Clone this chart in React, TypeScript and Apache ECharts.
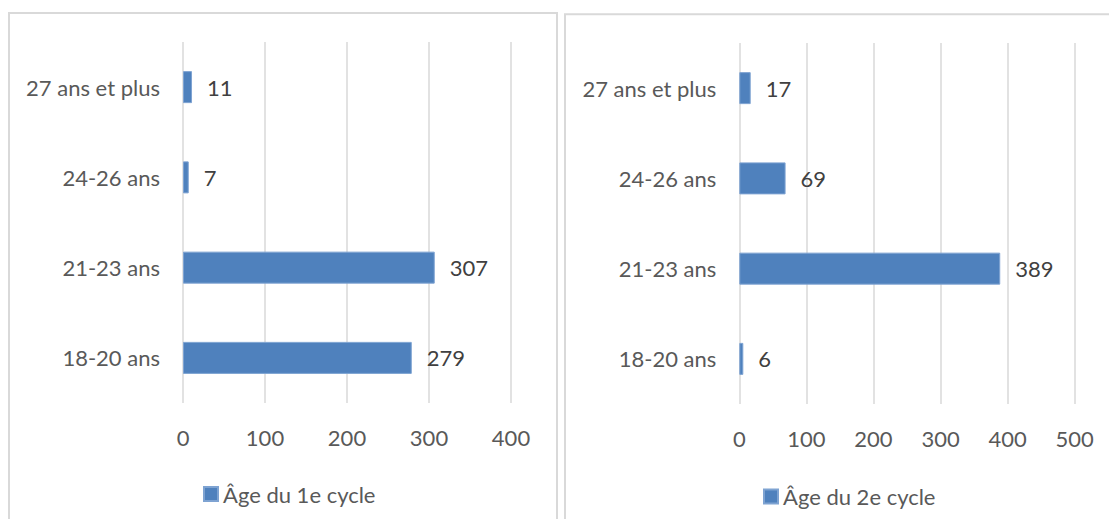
import React, { useEffect, useRef } from "react";
import * as echarts from "echarts";

const categories = ["18-20 ans", "21-23 ans", "24-26 ans", "27 ans et plus"];
const cycle1Values = [279, 307, 7, 11];
const cycle2Values = [6, 389, 69, 17];
const seriesNames = ["Âge du 1e cycle", "Âge du 2e cycle"];
const axisMax = [400, 500];
const tickStep = 100;

const FONT = "Lato";
const BAR = "#4F81BD";

export default function App() {
  const ref = useRef<HTMLDivElement>(null);
  useEffect(() => {
    const chart = echarts.init(ref.current!, null, { renderer: "svg" });
    const catAxis = (gridIndex: number) => ({
      type: "category",
      gridIndex,
      data: categories,
      axisLine: { show: false },
      axisTick: { show: false },
      splitLine: { show: false },
      axisLabel: { color: "#595959", fontSize: 22, fontFamily: FONT, margin: 23 },
    });
    const valAxis = (gridIndex: number, max: number) => ({
      type: "value",
      gridIndex,
      min: 0,
      max,
      interval: tickStep,
      axisLine: { show: false },
      axisTick: { show: false },
      axisLabel: { color: "#595959", fontSize: 22, fontFamily: FONT, margin: 23 },
      splitLine: { show: true, lineStyle: { color: "#d9d9d9", width: 1.5 } },
    });
    const bar = (name: string, idx: number, data: number[]) => ({
      type: "bar",
      name,
      xAxisIndex: idx,
      yAxisIndex: idx,
      data,
      barWidth: 32,
      itemStyle: { color: BAR, borderColor: "#7ea3d2", borderWidth: 1 },
      label: {
        show: true,
        position: "right",
        distance: 15,
        color: "#404040",
        fontSize: 22,
        fontFamily: FONT,
      },
    });
    chart.setOption({
      animation: false,
      backgroundColor: "#ffffff",
      textStyle: { fontFamily: FONT },
      graphic: [
        {
          type: "rect",
          shape: { x: 9, y: 13, width: 548, height: 540 },
          style: { fill: "none", stroke: "#d9d9d9", lineWidth: 2 },
          silent: true,
        },
        {
          type: "rect",
          shape: { x: 565, y: 14.3, width: 600, height: 540 },
          style: { fill: "none", stroke: "#d9d9d9", lineWidth: 2 },
          silent: true,
        },
      ],
      grid: [
        { left: 183, top: 42, width: 328, height: 361, outerBoundsMode: "none" },
        { left: 739.3, top: 43, width: 335.4, height: 361, outerBoundsMode: "none" },
      ],
      xAxis: [valAxis(0, axisMax[0]), valAxis(1, axisMax[1])],
      yAxis: [catAxis(0), catAxis(1)],
      legend: [
        {
          data: [seriesNames[0]],
          left: 203,
          top: 483,
          padding: 0,
          itemWidth: 14,
          itemHeight: 14,
          icon: "rect",
          textStyle: { color: "#595959", fontSize: 22, fontFamily: FONT },
        },
        {
          data: [seriesNames[1]],
          left: 763,
          top: 485.5,
          padding: 0,
          itemWidth: 14,
          itemHeight: 14,
          icon: "rect",
          textStyle: { color: "#595959", fontSize: 22, fontFamily: FONT },
        },
      ],
      series: [bar(seriesNames[0], 0, cycle1Values), bar(seriesNames[1], 1, cycle2Values)],
    });
    return () => chart.dispose();
  }, []);
  return (
    <div
      ref={ref}
      style={{ position: "absolute", left: 0, top: 0, width: 1109, height: 519, overflow: "hidden" }}
    />
  );
}
